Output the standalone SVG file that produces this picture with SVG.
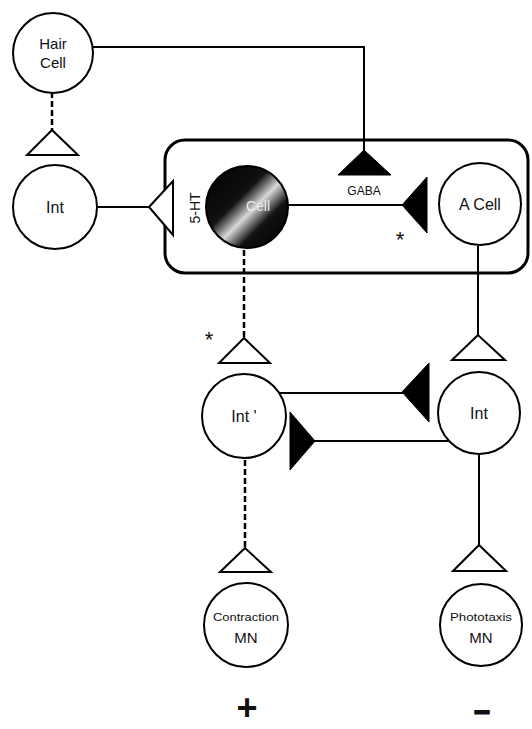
<svg xmlns="http://www.w3.org/2000/svg" width="532" height="729" viewBox="0 0 532 729">
<defs>
<linearGradient id="band" x1="0" y1="0" x2="1" y2="1">
<stop offset="0" stop-color="#000"/>
<stop offset="0.4" stop-color="#111"/>
<stop offset="0.55" stop-color="#d8d8d8"/>
<stop offset="0.7" stop-color="#111"/>
<stop offset="1" stop-color="#000"/>
</linearGradient>
</defs>
<style>
.n{fill:#fff;stroke:#000;stroke-width:2}
.t{font-family:"Liberation Sans",Arial,sans-serif;fill:#111;text-anchor:middle}
.l{fill:none;stroke:#000;stroke-width:2}
.d{fill:none;stroke:#000;stroke-width:2.5;stroke-dasharray:6 3}
.o{fill:#fff;stroke:#000;stroke-width:2;stroke-linejoin:miter}
.f{fill:#000;stroke:#000;stroke-width:1}
</style>
<rect id="box" x="165" y="140" width="363" height="133" rx="20" ry="20" fill="none" stroke="#000" stroke-width="3"/>
<g id="connectors">
<polyline class="l" points="93,47 364,47 364,152"/>
<line class="d" x1="52" y1="92" x2="52" y2="130"/>
<line class="l" x1="97" y1="207" x2="150" y2="207"/>
<line class="l" x1="288" y1="205" x2="404" y2="205"/>
<line class="d" x1="244" y1="250" x2="244" y2="338"/>
<line class="l" x1="478" y1="246" x2="478" y2="335"/>
<line class="l" x1="279" y1="393" x2="404" y2="393"/>
<line class="l" x1="449" y1="441" x2="313" y2="441"/>
<line class="d" x1="245" y1="460" x2="245" y2="548"/>
<line class="l" x1="479" y1="455" x2="479" y2="545"/>
<polygon class="o" points="52,130 27,155 78,155"/>
<polygon class="f" points="364,150 338,175 391,175"/>
<polygon class="o" points="149,207 173,181 173,235"/>
<polygon class="f" points="402,205 427,177 427,233"/>
<polygon class="o" points="244,338 219,363 270,363"/>
<polygon class="o" points="478,335 452,360 505,360"/>
<polygon class="f" points="402,392 429,363 429,422"/>
<polygon class="f" points="315,441 290,412 290,470"/>
<polygon class="o" points="245,548 220,572 271,572"/>
<polygon class="o" points="479,545 453,571 506,571"/>
<text class="t" x="364" y="195" font-size="12">GABA</text>
<text class="t" x="0" y="0" font-size="14" transform="translate(200,208) rotate(-90)">5-HT</text>
<text class="t" x="400" y="247" font-size="22">*</text>
<text class="t" x="209" y="347" font-size="22">*</text>
</g>
<g id="hair-cell">
<circle class="n" cx="53" cy="53" r="40"/>
<text class="t" x="53" y="49" font-size="15">Hair</text>
<text class="t" x="53" y="68" font-size="15">Cell</text>
</g>
<g id="int-left">
<circle class="n" cx="55" cy="207" r="42"/>
<text class="t" x="55" y="213" font-size="16">Int</text>
</g>
<g id="cell">
<circle cx="247" cy="207" r="41" fill="url(#band)" stroke="#000" stroke-width="2"/>
<text class="t" x="258" y="211" font-size="14" style="fill:#eee">Cell</text>
</g>
<g id="a-cell">
<circle class="n" cx="480" cy="204" r="41"/>
<text class="t" x="480" y="210" font-size="16">A  Cell</text>
</g>
<g id="int-mid">
<circle class="n" cx="244" cy="416" r="42"/>
<text class="t" x="244" y="422" font-size="16">Int '</text>
</g>
<g id="int-right">
<circle class="n" cx="479" cy="413" r="41"/>
<text class="t" x="479" y="419" font-size="16">Int</text>
</g>
<g id="contraction-mn">
<circle class="n" cx="246" cy="625" r="42"/>
<text class="t" x="246" y="621" font-size="10.5" textLength="66" lengthAdjust="spacingAndGlyphs">Contraction</text>
<text class="t" x="246" y="643" font-size="15">MN</text>
</g>
<g id="phototaxis-mn">
<circle class="n" cx="481" cy="625" r="41"/>
<text class="t" x="481" y="621" font-size="10.5" textLength="62" lengthAdjust="spacingAndGlyphs">Phototaxis</text>
<text class="t" x="481" y="643" font-size="15">MN</text>
</g>
<text class="t" x="247" y="720" font-size="36" font-weight="bold">+</text>
<text class="t" x="482" y="720" font-size="30" font-weight="bold" stroke="#111" stroke-width="1" textLength="18" lengthAdjust="spacingAndGlyphs">-</text>
</svg>
